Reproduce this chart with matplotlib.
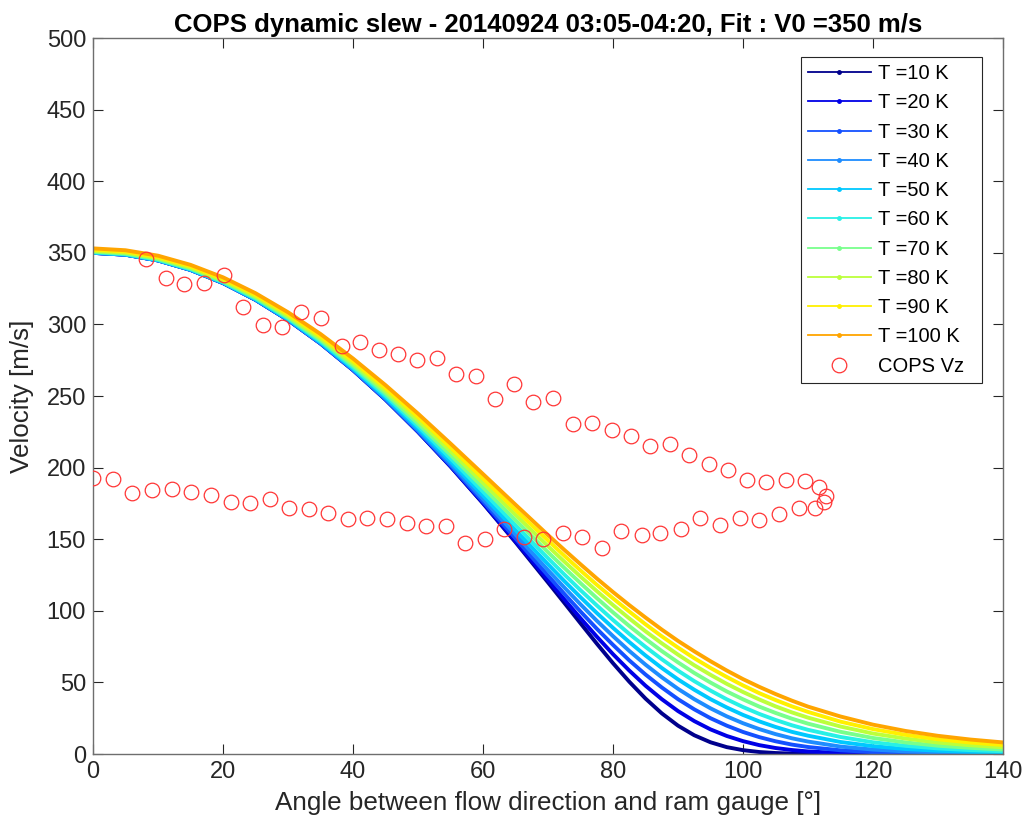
import numpy as np
import matplotlib
matplotlib.use("Agg")
import matplotlib.pyplot as plt
from matplotlib.lines import Line2D

plt.rcParams['font.family'] = ['Liberation Sans', 'DejaVu Sans']

# fitted curves (5 deg steps, 2.5 deg around the knee)
angle = [0, 5, 10, 15, 20, 25, 30, 35, 40, 45, 50, 55, 60, 65, 70,
         72.5, 75, 77.5, 80, 82.5, 85, 87.5, 90, 92.5, 95, 97.5, 100, 102.5, 105, 107.5, 110,
         115, 120, 125, 130, 135, 140]

v_T10 = [350.0, 348.7, 344.7, 338.1, 328.9, 317.2, 303.1, 286.7, 268.1, 247.5, 225.0, 200.8, 175.0, 147.9, 119.8,
         105.6, 91.3, 77.1, 63.4, 50.5, 38.7, 28.4, 19.8, 13.1, 8.2, 4.8, 2.7, 1.4, 0.7, 0.3, 0.1,
         0.0, 0.0, 0.0, 0.0, 0.0, 0.0]
v_T20 = [350.0, 348.7, 344.7, 338.1, 328.9, 317.2, 303.1, 286.7, 268.1, 247.5, 225.0, 200.9, 175.3, 148.6, 121.5,
         108.0, 94.8, 82.0, 69.7, 58.3, 47.7, 38.3, 30.0, 23.0, 17.2, 12.6, 9.0, 6.2, 4.2, 2.8, 1.8,
         0.7, 0.3, 0.1, 0.0, 0.0, 0.0]
v_T30 = [350.0, 348.7, 344.7, 338.1, 328.9, 317.2, 303.1, 286.7, 268.2, 247.6, 225.3, 201.4, 176.3, 150.5, 124.6,
         111.9, 99.5, 87.5, 76.2, 65.4, 55.5, 46.5, 38.3, 31.2, 25.0, 19.8, 15.4, 11.8, 8.9, 6.6, 4.9,
         2.6, 1.3, 0.7, 0.3, 0.2, 0.1]
v_T40 = [350.0, 348.7, 344.7, 338.1, 329.0, 317.3, 303.3, 286.9, 268.5, 248.1, 226.0, 202.6, 178.1, 153.2, 128.4,
         116.3, 104.5, 93.1, 82.3, 72.0, 62.4, 53.6, 45.5, 38.3, 31.9, 26.3, 21.5, 17.4, 13.9, 11.0, 8.7,
         5.2, 3.1, 1.8, 1.1, 0.6, 0.4]
v_T50 = [350.2, 348.8, 344.9, 338.3, 329.2, 317.5, 303.6, 287.4, 269.1, 249.0, 227.3, 204.3, 180.5, 156.3, 132.5,
         120.8, 109.5, 98.5, 88.1, 78.2, 68.8, 60.1, 52.1, 44.9, 38.3, 32.5, 27.3, 22.8, 18.9, 15.5, 12.8,
         8.4, 5.5, 3.5, 2.3, 1.5, 1.0]
v_T60 = [350.4, 349.1, 345.1, 338.6, 329.5, 318.0, 304.2, 288.1, 270.0, 250.2, 228.9, 206.4, 183.2, 159.8, 136.7,
         125.4, 114.4, 103.8, 93.6, 83.9, 74.8, 66.2, 58.2, 50.9, 44.3, 38.2, 32.8, 28.0, 23.8, 20.1, 16.9,
         11.9, 8.2, 5.7, 3.9, 2.7, 1.9]
v_T70 = [350.8, 349.5, 345.6, 339.1, 330.1, 318.7, 304.9, 289.1, 271.3, 251.8, 230.8, 208.9, 186.2, 163.4, 140.9,
         130.0, 119.3, 108.9, 98.9, 89.4, 80.4, 71.9, 64.0, 56.6, 49.9, 43.7, 38.2, 33.1, 28.7, 24.7, 21.2,
         15.5, 11.2, 8.1, 5.8, 4.3, 3.1]
v_T80 = [351.4, 350.1, 346.3, 339.8, 330.9, 319.6, 306.0, 290.3, 272.8, 253.6, 233.0, 211.5, 189.3, 167.1, 145.1,
         134.4, 123.9, 113.8, 104.0, 94.7, 85.7, 77.3, 69.4, 62.0, 55.3, 49.0, 43.3, 38.1, 33.3, 29.1, 25.4,
         19.2, 14.3, 10.8, 8.0, 6.1, 4.7]
v_T90 = [352.2, 350.9, 347.0, 340.6, 331.8, 320.6, 307.2, 291.7, 274.4, 255.5, 235.3, 214.1, 192.4, 170.5, 149.1,
         138.5, 128.2, 118.2, 108.7, 99.5, 90.6, 82.2, 74.3, 66.9, 60.1, 53.8, 47.9, 42.5, 37.7, 33.3, 29.4,
         22.6, 17.4, 13.4, 10.3, 8.0, 6.3]
v_T100 = [353.1, 351.8, 348.0, 341.6, 332.9, 321.8, 308.5, 293.3, 276.2, 257.6, 237.7, 216.8, 195.5, 174.1, 152.9,
          142.6, 132.5, 122.6, 113.1, 104.0, 95.3, 86.9, 79.0, 71.7, 64.8, 58.3, 52.3, 46.9, 41.9, 37.3, 33.1,
          26.2, 20.5, 16.1, 12.7, 10.1, 8.1]

temps = [10, 20, 30, 40, 50, 60, 70, 80, 90, 100]
curves = [v_T10, v_T20, v_T30, v_T40, v_T50, v_T60, v_T70, v_T80, v_T90, v_T100]
colors = ['#00008c', '#0000e6', '#1450ff', '#1e8cff', '#00c8ff',
          '#28f0e6', '#78ff8c', '#bcff3c', '#fff000', '#ffa500']

# COPS measurements (out along the top branch, back along the bottom)
cops_angle = [8.2, 11.2, 14.0, 17.1, 20.1, 23.1, 26.1, 29.1, 32.0, 35.0, 38.3, 41.0, 44.0, 46.9, 49.9,
              52.9, 55.9, 58.9, 61.9, 64.8, 67.7, 70.8, 73.8, 76.8, 79.8, 82.7, 85.7, 88.7, 91.7,
              94.7, 97.7, 100.6, 103.5, 106.6, 109.6, 111.7, 112.8, 112.5, 111.1,
              108.6, 105.5, 102.5, 99.5, 96.5, 93.4, 90.4, 87.3, 84.4, 81.3, 78.3, 75.3, 72.3, 69.3,
              66.3, 63.3, 60.3, 57.3, 54.3, 51.2, 48.3, 45.2, 42.2, 39.2, 36.2, 33.2, 30.2, 27.2,
              24.2, 21.2, 18.2, 15.1, 12.1, 9.1, 6.0, 3.0, 0.0]
cops_vz = [345.7, 332.6, 328.2, 328.9, 334.3, 312.4, 299.8, 298.4, 308.4, 304.7, 285.1, 287.9, 282.3, 279.1, 274.9,
           276.3, 265.2, 263.8, 247.7, 258.6, 245.6, 248.8, 230.4, 231.1, 226.5, 222.3, 214.9, 216.3, 208.6,
           202.5, 198.5, 191.5, 190.2, 191.1, 190.4, 186.2, 180.4, 176.0, 171.8,
           172.0, 167.6, 163.6, 165.0, 159.7, 165.0, 156.9, 154.1, 152.8, 155.5, 143.7, 151.3, 154.1, 150.3,
           151.7, 156.9, 150.1, 147.1, 159.4, 159.4, 161.5, 164.1, 164.8, 164.1, 168.5, 170.9, 171.6, 177.9,
           175.1, 176.0, 180.7, 182.7, 185.3, 184.6, 182.1, 192.0, 192.9]

fig = plt.figure(figsize=(10.28, 8.34), dpi=100)
ax = fig.add_axes([0.0905, 0.0959, 0.8852, 0.8585])

handles = []
for T, v, c in zip(temps, curves, colors):
    ax.plot(angle, v, '-', color=c, lw=2.8, solid_capstyle='butt', zorder=2)
    handles.append(Line2D([], [], color=c, lw=1.3, marker='.', ms=5, label='T =%d K  ' % T))

ax.plot(cops_angle, cops_vz, 'o', mfc='none', mec='#ff3535', ms=10.5, mew=0.9, zorder=3)
handles.append(Line2D([], [], ls='none', marker='o', mfc='none', mec='#ff3535', ms=10.5, mew=0.9, label='COPS Vz  '))

ax.set_xlim(0, 140)
ax.set_ylim(0, 500)
ax.set_xticks(np.arange(0, 141, 20))
ax.set_yticks(np.arange(0, 501, 50))
ax.tick_params(direction='in', length=7, width=0.8, top=True, right=True, labelsize=17,
               colors='#262626', pad=5)
for s in ax.spines.values():
    s.set_color('#6e6e6e')
    s.set_linewidth(1.0)

ax.set_xlabel('Angle between flow direction and ram gauge [°]', fontsize=18.7, color='#262626', labelpad=6)
ax.set_ylabel('Velocity [m/s]', fontsize=18.7, color='#262626', labelpad=9)
ax.set_title('COPS dynamic slew - 20140924 03:05-04:20, Fit : V0 =350 m/s', fontsize=18.5,
             fontweight='bold', color='black', pad=4)

leg = ax.legend(handles=handles, loc='upper right', bbox_to_anchor=(0.977, 0.9735), borderaxespad=0,
                fontsize=14.5, handlelength=3.1, handletextpad=0.35, labelspacing=0.51, borderpad=0.35,
                fancybox=False, framealpha=1, edgecolor='#262626')
leg.get_frame().set_linewidth(0.8)

fig.savefig('out.png', dpi=100)
